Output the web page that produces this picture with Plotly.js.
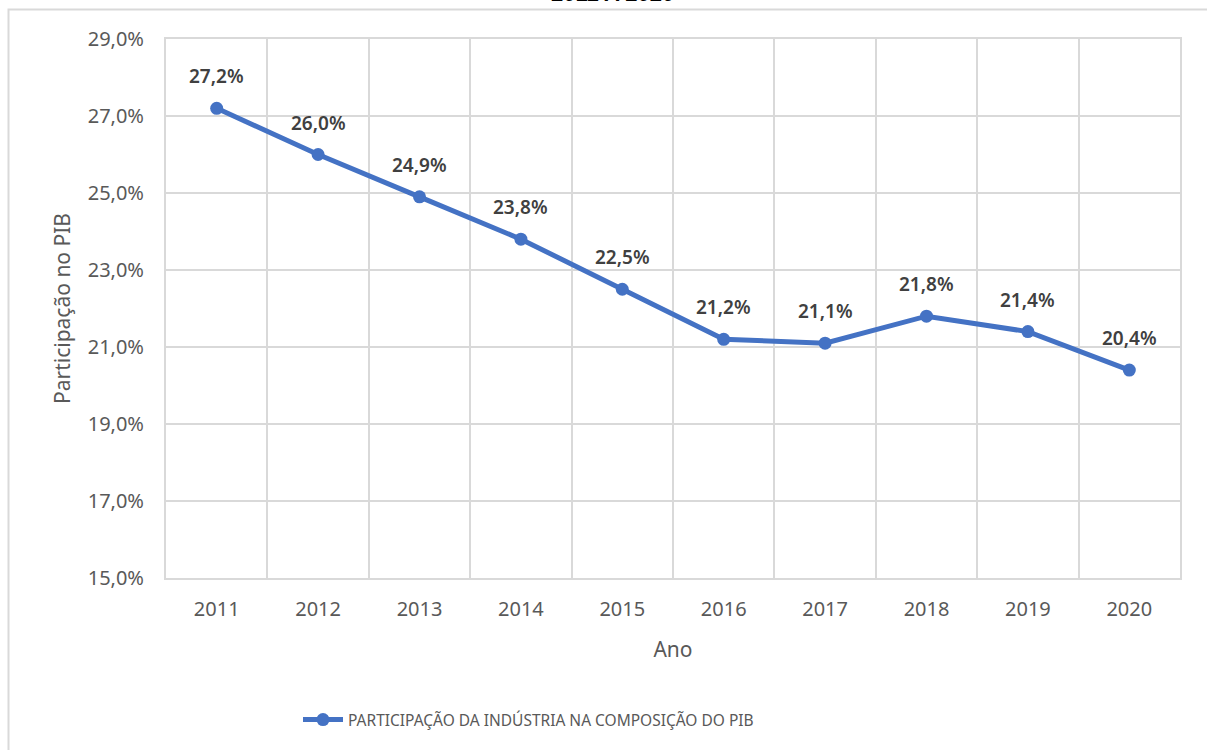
<!DOCTYPE html>
<html>
<head>
<meta charset="utf-8">
<script src="https://cdn.plot.ly/plotly-3.0.1.min.js"></script>
<style>
html,body{margin:0;padding:0;background:#fff;}
#chart{width:1207px;height:750px;}
</style>
</head>
<body>
<div id="chart"></div>
<script>
const years = ['2011','2012','2013','2014','2015','2016','2017','2018','2019','2020'];
const participacao = [27.2, 26.0, 24.9, 23.8, 22.5, 21.2, 21.1, 21.8, 21.4, 20.4];
const yTickVals = [15, 17, 19, 21, 23, 25, 27, 29];
const seriesName = 'PARTICIPAÇÃO DA INDÚSTRIA NA COMPOSIÇÃO DO PIB';
const chartTitle = '2011 A 2020';
const xTitle = 'Ano';
const yTitle = 'Participação no PIB';

const fmt = v => v.toFixed(1).replace('.', ',') + '%';

const W = 1207, H = 750;
const L = 166, R = 27, T = 39, B = 172;
const pw = W - L - R, ph = H - T - B;
const px = x => (x - L) / pw;
const py = y => (H - B - y) / ph;

const font = 'Noto Sans, Open Sans, sans-serif';
const grid = '#D9D9D9';

const trace = {
  x: years,
  y: participacao,
  type: 'scatter',
  mode: 'lines+markers',
  name: seriesName,
  line: {color: '#4472C4', width: 5},
  marker: {color: '#4472C4', size: 13},
  hoverinfo: 'skip'
};

const labels = years.map((yr, i) => ({
  x: i, y: participacao[i], xref: 'x', yref: 'y',
  text: fmt(participacao[i]), showarrow: false,
  yanchor: 'bottom', yshift: 17,
  font: {family: font, size: 19, color: '#404040', weight: 600}
}));

labels.push({
  xref: 'paper', yref: 'paper', x: px(612), y: py(8),
  xanchor: 'center', yanchor: 'bottom', showarrow: false,
  text: '<b>' + chartTitle + '</b>',
  font: {family: 'Liberation Sans, Arial, sans-serif', size: 22, color: '#000'}
});

const layout = {
  width: W, height: H,
  margin: {l: L, r: R, t: T, b: B},
  paper_bgcolor: '#fff', plot_bgcolor: '#fff',
  separators: ',.',
  showlegend: true,
  legend: {
    orientation: 'h', x: px(298), y: py(720), xanchor: 'left', yanchor: 'middle',
    font: {family: font, size: 15.5, color: '#595959'},
    itemwidth: 40
  },
  xaxis: {
    type: 'category',
    categoryorder: 'array', categoryarray: years,
    range: [-0.5, years.length - 0.5],
    tickson: 'boundaries',
    showgrid: true, gridcolor: grid, gridwidth: 2,
    showline: true, linecolor: grid, linewidth: 2, mirror: true,
    ticks: 'outside', ticklen: 18, tickcolor: 'rgba(0,0,0,0)',
    ticklabelstandoff: 12,
    tickfont: {family: font, size: 20, color: '#595959'},
    title: {text: xTitle, standoff: 21, font: {family: font, size: 21, color: '#595959'}},
    fixedrange: true
  },
  yaxis: {
    range: [15, 29],
    tickvals: yTickVals,
    ticktext: yTickVals.map(fmt),
    showgrid: true, gridcolor: grid, gridwidth: 2,
    zeroline: false,
    showline: true, linecolor: grid, linewidth: 2, mirror: true,
    ticks: 'outside', ticklen: 16, tickcolor: 'rgba(0,0,0,0)',
    tickfont: {family: font, size: 20, color: '#595959'},
    title: {text: yTitle, standoff: 11, font: {family: font, size: 21, color: '#595959'}},
    fixedrange: true
  },
  annotations: labels,
  shapes: [{
    type: 'rect', xref: 'paper', yref: 'paper',
    x0: px(8.5), x1: px(1230), y0: py(770), y1: py(9.5),
    line: {color: '#D9D9D9', width: 2}, fillcolor: 'rgba(0,0,0,0)', layer: 'below'
  }]
};

Plotly.newPlot('chart', [trace], layout, {displayModeBar: false, staticPlot: true});
</script>
</body>
</html>
